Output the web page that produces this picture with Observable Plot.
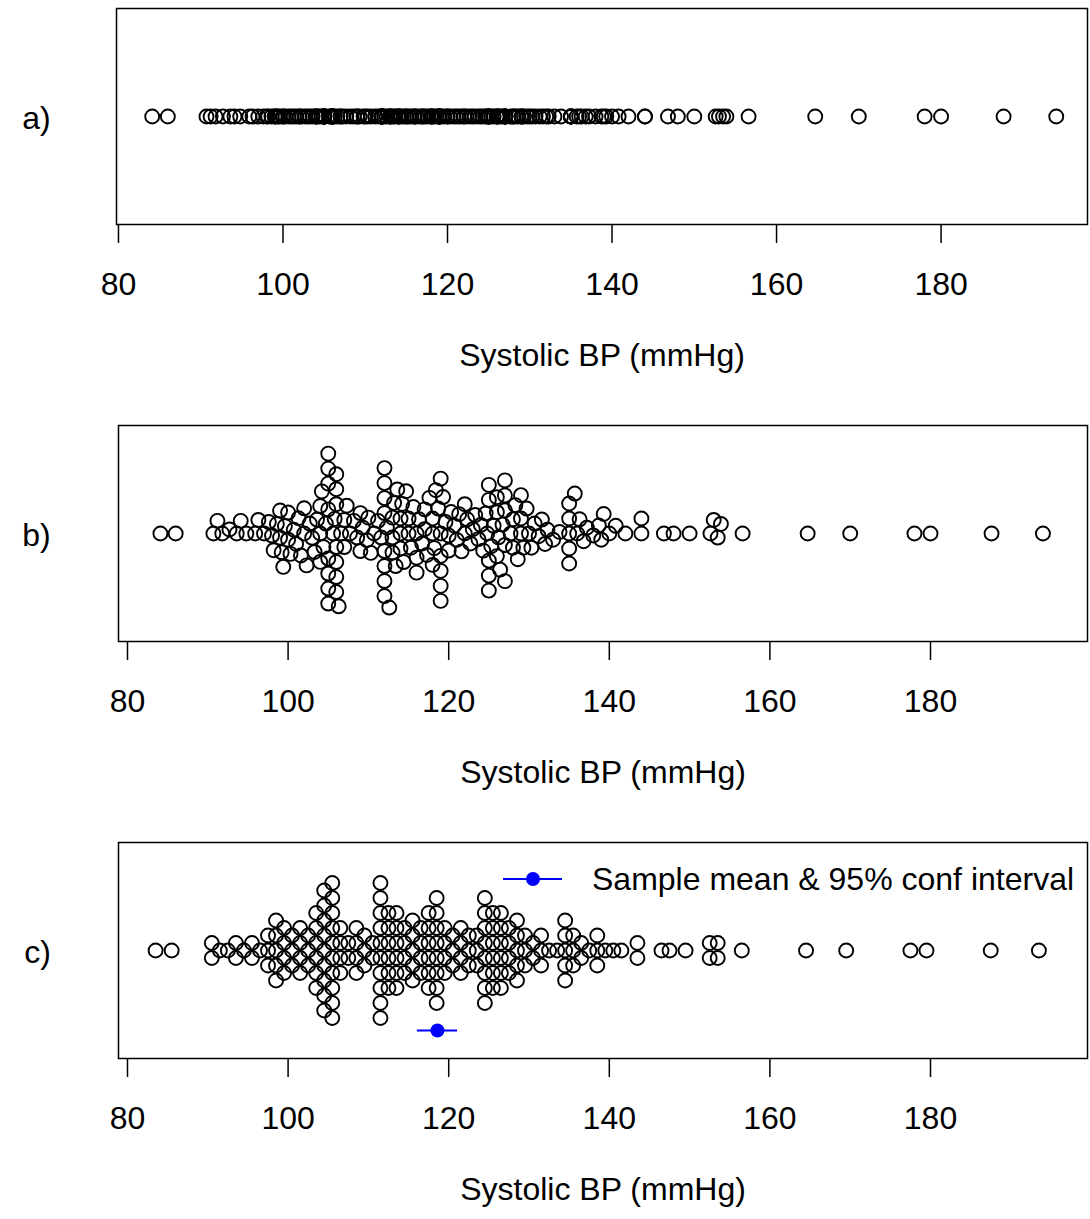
<!DOCTYPE html>
<html><head><meta charset="utf-8">
<script src="https://cdn.jsdelivr.net/npm/d3@7"></script>
<script src="https://cdn.jsdelivr.net/npm/@observablehq/plot@0.6"></script>
<style>
body{margin:0;background:#fff;color:#000;font-family:"Liberation Sans",Arial,sans-serif;}
#wrap{position:relative;width:1090px;height:1219px;overflow:hidden;}
.panel{position:absolute;left:0;}
</style></head><body><div id="wrap"></div>
<script>
// ---- data ----
const panelLabels = ["a)", "b)", "c)"];
const axisTitle = "Systolic BP (mmHg)";
const xTicks = [80, 100, 120, 140, 160, 180];
const legendText = "Sample mean & 95% conf interval";
const sbp = [
  84.1, 86.0,
  90.7, 91.2, 91.8, 92.7, 93.6, 94.1, 94.8,
  95.9, 96.3, 97.0,
  97.6, 98.0, 98.2,
  98.6, 99.0, 99.0, 99.2, 99.4,
  99.6, 100.0, 100.0, 100.3,
  100.7, 101.0, 101.3,
  101.6, 102.0, 102.0, 102.3,
  102.7, 103.0, 103.3,
  103.6, 104.0, 104.0, 104.0, 104.2, 104.4,
  104.7, 105, 105, 105, 105, 105, 105, 105, 105,
  105.6, 105.8, 106, 106, 106, 106, 106, 106, 106, 106.3,
  106.6, 107.0, 107.0, 107.3,
  107.7, 108.2,
  108.6, 109.0, 109.0, 109.3,
  109.8, 110.0, 110.3,
  110.7, 111.2,
  111.6, 112, 112, 112, 112, 112, 112, 112, 112, 112.3,
  112.6, 113.0, 113.0, 113.0, 113.2, 113.4,
  113.6, 114.0, 114.0, 114.0, 114.2, 114.4,
  114.7, 115.0, 115.0, 115.3,
  115.6, 116.0, 116.0, 116.0, 116.3,
  116.7, 117.0, 117.0, 117.3,
  117.6, 118.0, 118.0, 118.0, 118.2, 118.4,
  118.7, 119, 119, 119, 119, 119, 119, 119.3,
  119.6, 120.0, 120.0, 120.3,
  120.7, 121.0, 121.3,
  121.6, 122.0, 122.0, 122.3,
  122.7, 123.0, 123.3,
  123.7, 124.0, 124.3,
  124.6, 124.8, 125, 125, 125, 125, 125, 125.3,
  125.6, 126.0, 126.0, 126.0, 126.2, 126.4,
  126.7, 127, 127, 127, 127, 127,
  127.7, 128.0, 128.0, 128.3,
  128.6, 129.0, 129.0, 129.0, 129.3,
  129.7, 130.0, 130.3,
  130.7, 131.2,
  131.6, 132.0, 132.3,
  133.0, 133.8,
  135, 135, 135, 135, 135,
  135.7, 136.0, 136.3,
  136.8, 137.2, 138.0,
  138.7, 139.0, 139.3,
  140.0, 140.8, 142.0,
  144.0, 144.0,
  146.8, 148.0, 150.0,
  152.6, 153.0, 153.5, 153.9,
  156.6, 164.7, 170.0, 178.0, 180.0, 187.6, 194.0
];
const meanSBP = 118.6;
const ciLow = 116.1;
const ciHigh = 121.1;

// ---- layout ----
const W = 1090;
const FONT = 32;
const panels = [
  {top: 0,   height: 417, domain: [79.76, 197.8], ml: 116, mr: 3, ldx: -80},
  {top: 417, height: 417, domain: [78.88, 199.55], ml: 118, mr: 3, ldx: -82},
  {top: 834, height: 385, domain: [78.88, 199.55], ml: 118, mr: 3, ldx: -81}
];
const MT = 8, BOX = 216;
const SY = 15;      // vertical stacking distance (px)
const SX = 7.5;     // horizontal collision size (px)
const R = 7;

function swarm(values, px) {
  const order = d3.range(values.length).sort((a, b) => values[a] - values[b]);
  const placed = [];
  const ys = new Array(values.length);
  const ok = (x, y, near) => near.every(p => ((p.x - x) / SX) ** 2 + ((p.y - y) / SY) ** 2 >= 1 - 1e-9);
  for (const i of order) {
    const x = px(values[i]);
    const near = placed.filter(p => Math.abs(p.x - x) < SX);
    const cands = [0];
    for (const p of near) {
      const h = SY * Math.sqrt(1 - ((p.x - x) / SX) ** 2);
      cands.push(p.y + h, p.y - h);
    }
    cands.sort((a, b) => Math.abs(a) - Math.abs(b) || b - a);
    let y = 0;
    for (const c of cands) { if (ok(x, c, near)) { y = c; break; } }
    placed.push({x, y});
    ys[i] = y;
  }
  return ys;
}

function centerStacks(values) {
  const groups = d3.groups(values.map((v, i) => ({v, i})), o => Math.round(o.v) - 0.5);
  const out = [];
  for (const [c, arr] of groups) {
    arr.sort((a, b) => a.v - b.v);
    const n = arr.length;
    arr.forEach((o, j) => out.push({v: c, y: (j - (n - 1) / 2) * SY}));
  }
  return out;
}

function basePlot(p, label, marks) {
  const half = BOX / 2;
  return Plot.plot({
    width: W, height: p.height,
    marginTop: MT, marginBottom: p.height - MT - BOX, marginLeft: p.ml, marginRight: p.mr,
    style: {fontFamily: '"Liberation Sans", Arial, sans-serif', fontSize: FONT + "px", color: "#000", background: "#fff"},
    x: {domain: p.domain},
    y: {domain: [-half, half], axis: null},
    marks: [
      ...marks,
      Plot.frame({stroke: "#000", strokeWidth: 1.5}),
      Plot.axisX(xTicks, {tickSize: 19, tickPadding: 29, fontSize: FONT, strokeWidth: 1.5, label: null, tickFormat: d => String(d)}),
      Plot.text([axisTitle], {frameAnchor: "bottom", lineAnchor: "middle", textAnchor: "middle", dy: 131, fontSize: FONT, fill: "#000"}),
      Plot.text([label], {frameAnchor: "left", textAnchor: "middle", lineAnchor: "middle", dx: p.ldx, dy: 2, fontSize: FONT, fill: "#000"})
    ]
  });
}

const wrap = document.getElementById("wrap");
function place(svg, p) {
  const div = document.createElement("div");
  div.className = "panel";
  div.style.top = p.top + "px";
  div.appendChild(svg);
  wrap.appendChild(div);
}
const dotOpts = {x: "v", y: "y", r: R, stroke: "#000", strokeWidth: 1.9, fill: "none"};

// panel a
{
  const p = panels[0];
  const data = sbp.map(v => ({v, y: 0}));
  place(basePlot(p, panelLabels[0], [Plot.dot(data, dotOpts)]), p);
}
// panel b
{
  const p = panels[1];
  const px = d3.scaleLinear().domain(p.domain).range([p.ml, W - p.mr]);
  const ys = swarm(sbp, px);
  const data = sbp.map((v, i) => ({v, y: ys[i]}));
  place(basePlot(p, panelLabels[1], [Plot.dot(data, dotOpts)]), p);
}
// panel c
{
  const p = panels[2];
  const data = centerStacks(sbp);
  const ci = [{mean: meanSBP, lo: ciLow, hi: ciHigh, y: -80}];
  const legend = (index, scales, values, dims) => {
    const g = d3.create("svg:g");
    const y = dims.marginTop + 37;
    g.append("line").attr("x1", 503).attr("x2", 562).attr("y1", y).attr("y2", y)
      .attr("stroke", "blue").attr("stroke-width", 2);
    g.append("circle").attr("cx", 533).attr("cy", y).attr("r", 7).attr("fill", "blue");
    g.append("text").attr("x", 592).attr("y", y).attr("dy", "0.35em")
      .attr("text-anchor", "start").attr("font-size", FONT).attr("fill", "#000").text(legendText);
    return g.node();
  };
  place(basePlot(p, panelLabels[2], [
    Plot.dot(data, dotOpts),
    Plot.ruleY(ci, {x1: "lo", x2: "hi", y: "y", stroke: "blue", strokeWidth: 2}),
    Plot.dot(ci, {x: "mean", y: "y", r: 7, fill: "blue"}),
    legend
  ]), p);
}
</script></body></html>
